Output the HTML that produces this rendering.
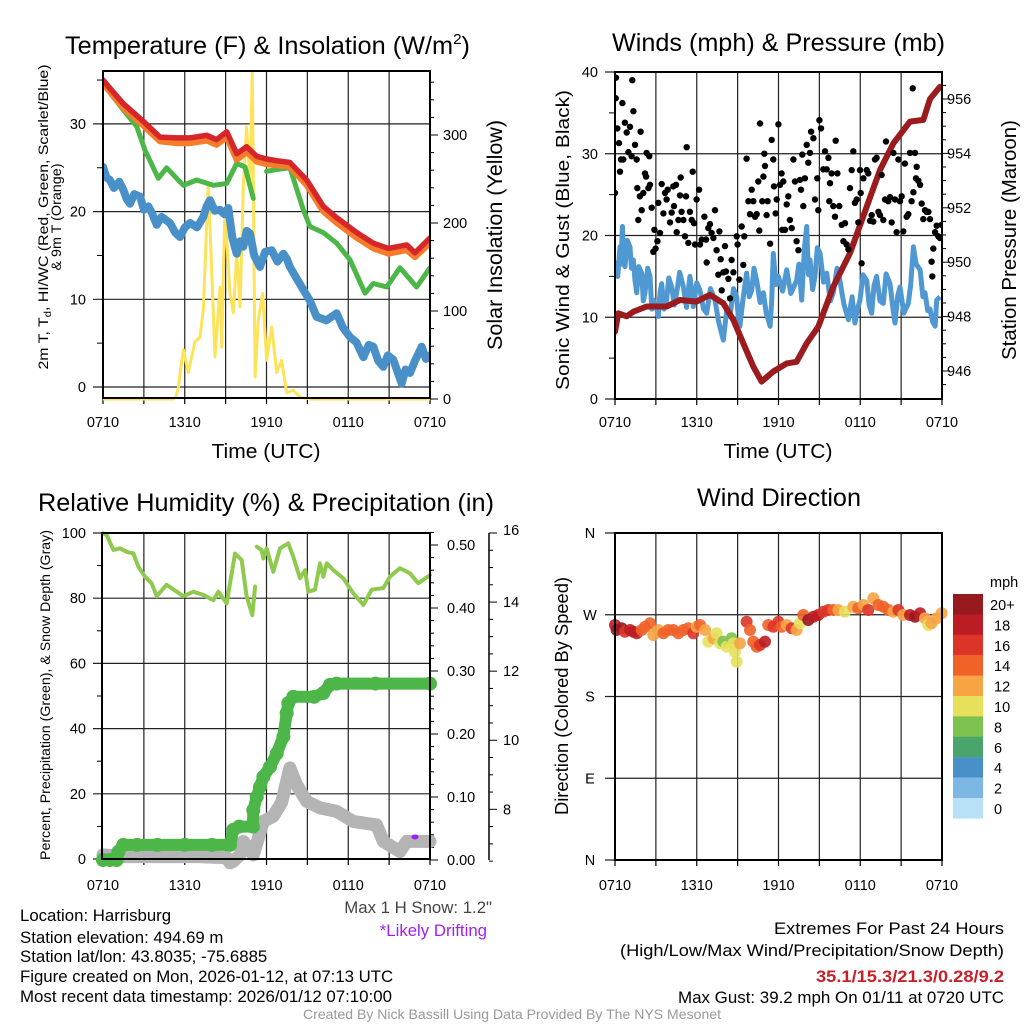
<!DOCTYPE html>
<html><head><meta charset="utf-8"><style>
html,body{margin:0;padding:0;background:#fff;}
svg{display:block;font-family:"Liberation Sans",Arial,sans-serif;}
</style></head><body>
<svg id="fig" width="1024" height="1024" viewBox="0 0 1024 1024" xmlns="http://www.w3.org/2000/svg">
<rect width="1024" height="1024" fill="#fff"/>
<defs>
<clipPath id="cT"><rect x="103" y="71" width="327" height="331"/></clipPath>
<clipPath id="cW"><rect x="615" y="72" width="327" height="327"/></clipPath>
</defs>
<g id="gT"></g>
<g id="gW"></g>
<g id="gR"></g>
<g id="gD"></g>

<text x="65" y="54" font-size="25" textLength="405" lengthAdjust="spacingAndGlyphs">Temperature (F) &amp; Insolation (W/m<tspan font-size="15" dy="-10">2</tspan><tspan dy="10">)</tspan></text>
<text x="612" y="51" font-size="25" textLength="333" lengthAdjust="spacingAndGlyphs">Winds (mph) &amp; Pressure (mb)</text>
<text x="38" y="511" font-size="25" textLength="456" lengthAdjust="spacingAndGlyphs">Relative Humidity (%) &amp; Precipitation (in)</text>
<text x="697" y="506" font-size="25" textLength="164" lengthAdjust="spacingAndGlyphs">Wind Direction</text>

<g transform="translate(48,217) rotate(-90)" font-size="14" text-anchor="middle">
<text x="0" y="0" textLength="305" lengthAdjust="spacingAndGlyphs">2m T, T<tspan font-size="10" dy="3">d</tspan><tspan dy="-3">, HI/WC (Red, Green, Scarlet/Blue)</tspan></text>
<text x="0" y="13" textLength="107" lengthAdjust="spacingAndGlyphs">&amp; 9m T (Orange)</text></g>
<text transform="translate(502,235) rotate(-90)" font-size="21" text-anchor="middle" textLength="230" lengthAdjust="spacingAndGlyphs">Solar Insolation (Yellow)</text>
<text x="266" y="458" font-size="20.5" text-anchor="middle" textLength="109" lengthAdjust="spacingAndGlyphs">Time (UTC)</text>
<text x="778" y="458" font-size="20.5" text-anchor="middle" textLength="109" lengthAdjust="spacingAndGlyphs">Time (UTC)</text>
<text transform="translate(569,240) rotate(-90)" font-size="18.5" text-anchor="middle" textLength="300" lengthAdjust="spacingAndGlyphs">Sonic Wind &amp; Gust (Blue, Black)</text>
<text transform="translate(1016,240) rotate(-90)" font-size="20.5" text-anchor="middle" textLength="240" lengthAdjust="spacingAndGlyphs">Station Pressure (Maroon)</text>
<text transform="translate(50,695) rotate(-90)" font-size="13.5" text-anchor="middle" textLength="330" lengthAdjust="spacingAndGlyphs">Percent, Precipitation (Green), &amp; Snow Depth (Gray)</text>
<text transform="translate(568,696) rotate(-90)" font-size="18.5" text-anchor="middle" textLength="238" lengthAdjust="spacingAndGlyphs">Direction (Colored By Speed)</text>

<text x="492" y="913" font-size="16.8" fill="#444" text-anchor="end">Max 1 H Snow: 1.2"</text>
<text x="487" y="936" font-size="16.8" fill="#a020f0" text-anchor="end">*Likely Drifting</text>

<g font-size="16.8">
<text x="20" y="921">Location: Harrisburg</text>
<text x="20" y="943">Station elevation: 494.69 m</text>
<text x="20" y="962">Station lat/lon: 43.8035; -75.6885</text>
<text x="20" y="982">Figure created on Mon, 2026-01-12, at 07:13 UTC</text>
<text x="20" y="1002" textLength="372" lengthAdjust="spacingAndGlyphs">Most recent data timestamp: 2026/01/12 07:10:00</text>
</g>
<g font-size="17">
<text x="774" y="934" textLength="230" lengthAdjust="spacingAndGlyphs">Extremes For Past 24 Hours</text>
<text x="620" y="956" textLength="384" lengthAdjust="spacingAndGlyphs">(High/Low/Max Wind/Precipitation/Snow Depth)</text>
<text x="816" y="982" font-weight="bold" fill="#c8202a" textLength="188" lengthAdjust="spacingAndGlyphs">35.1/15.3/21.3/0.28/9.2</text>
<text x="678" y="1003" textLength="326" lengthAdjust="spacingAndGlyphs">Max Gust: 39.2 mph On 01/11 at 0720 UTC</text>
</g>
<text x="303" y="1019" font-size="14" fill="#999" textLength="418" lengthAdjust="spacingAndGlyphs">Created By Nick Bassill Using Data Provided By The NYS Mesonet</text>
</svg>
<script>
// ---------- data ----------
const xTickLabels = ["0710","1310","1910","0110","0710"];
const xTickHours = [0,6,12,18,24];
const tempHours = [0,1.49,2.96,4.18,5.41,6.39,7.61,8.34,9.08,9.81,10.54,11.28,12.01,12.75,13.72,14.95,16.17,17.15,18.62,19.84,20.94,22.29,22.9,24];
const tempRed = [35.0,32.3,30.3,28.5,28.4,28.4,28.7,28.2,29.1,26.6,27.4,26.3,26.0,25.8,25.6,23.6,20.6,19.3,17.6,16.4,15.8,16.2,15.3,17.0];
const tempOrange = [34.6,31.8,29.8,28.0,27.8,27.8,28.1,27.6,28.5,25.9,26.8,25.7,25.4,25.3,25.1,23.0,20.0,18.7,17.0,15.8,15.2,15.6,14.8,16.4];
const wcHours = [0,1.49,2.47,3.08,4.06,4.67,5.9,6.87,8.1,9.08,9.81,10.42,11.03,11.28,12.01,12.75,13.72,14.7,15.19,16.17,17.15,18.13,19.23,19.84,20.82,21.8,23.02,24];
const wcGreen = [34.6,31.6,29.7,27.0,23.8,25.0,23.0,23.6,23.0,23.2,25.5,25.1,21.5,null,24.6,24.8,25.0,20.2,18.3,17.6,16.4,14.5,10.7,11.8,11.4,13.6,11.4,13.6];
const dewHours = [0,0.25,0.51,0.8,1.2,1.49,1.75,1.98,2.3,2.72,3.0,3.33,3.6,3.94,4.3,4.92,5.3,5.65,6.0,6.39,6.9,7.36,7.6,7.85,8.2,8.59,8.9,9.2,9.5,9.81,10.05,10.3,10.55,10.79,11.1,11.52,11.9,12.38,12.8,13.24,13.5,13.72,14.2,14.7,15.2,15.68,16.4,17.15,17.6,18.13,18.6,19.11,19.5,19.84,20.2,20.57,20.9,21.31,21.6,21.92,22.2,22.53,22.9,23.39,23.7,24];
const dewBlue = [25.1,23.9,23.6,22.7,23.4,22.5,21.4,20.9,22.0,21.7,20.2,20.6,19.8,18.5,19.4,18.7,17.6,17.1,18.2,18.7,18.2,19.4,20.6,21.3,20.1,20.2,19.7,20.4,17.0,15.2,16.6,16.0,17.8,17.5,15.0,13.7,15.4,15.6,14.3,15.2,14.6,13.7,12.4,11.1,9.8,8.0,7.6,8.4,6.8,5.7,5.1,3.4,4.8,4.6,3.0,2.3,3.6,3.1,1.8,0.4,2.0,1.6,3.0,4.6,3.2,3.6];
const solarHours = [0,5.16,5.35,5.53,5.7,5.9,6.26,6.75,7.12,7.36,7.73,8.22,8.59,8.71,8.95,9.32,9.57,9.81,10.06,10.3,10.54,10.79,10.96,11.16,11.4,11.72,12.01,12.38,12.75,13.11,13.48,13.97,14.46,15.19,24];
const solarVals = [0,0,3,12,35,56,30,65,70,101,245,48,127,59,215,120,98,166,105,241,309,249,375,25,90,120,44,82,30,44,7,10,2,0,0];

const windHours = [0,0.2,0.37,0.45,0.54,0.63,0.73,0.9,1.1,1.2,1.35,1.47,1.59,1.75,1.96,2.08,2.2,2.4,2.57,2.7,2.81,3.0,3.18,3.3,3.43,3.6,3.79,3.95,4.16,4.35,4.53,4.75,5.02,5.25,5.5,5.6,5.75,6.0,6.24,6.5,6.73,7.0,7.34,7.6,7.95,8.2,8.44,8.7,8.93,9.05,9.17,9.4,9.66,9.85,10.03,10.2,10.4,10.65,10.89,11.1,11.38,11.5,11.62,11.8,11.99,12.3,12.6,12.9,13.33,13.5,13.7,13.9,14.07,14.2,14.31,14.5,14.68,14.85,15.05,15.3,15.54,15.8,16.02,16.3,16.51,16.8,17.13,17.4,17.61,17.8,17.98,18.2,18.47,18.65,18.84,19.0,19.2,19.45,19.69,19.9,20.18,20.4,20.55,20.75,20.92,21.2,21.53,21.7,21.9,22.1,22.39,22.6,22.75,22.95,23.12,23.3,23.49,23.61,23.85];
const windBlue = [16.9,15.0,18.6,16.5,21.1,18.0,16.2,19.4,18.6,16.0,17.0,14.5,13.0,16.2,15.4,12.0,13.0,16.0,15.0,11.0,12.1,11.5,10.1,13.0,14.1,11.0,12.1,14.8,13.7,11.5,13.0,15.5,13.7,11.2,15.0,13.6,11.3,14.2,13.3,11.0,10.5,13.5,12.1,9.5,7.2,10.8,10.1,13.5,12.5,10.0,8.9,12.3,15.4,12.5,13.3,16.0,14.5,11.8,13.0,10.5,8.9,12.0,17.8,14.0,15.0,13.2,15.8,12.9,14.5,16.5,12.1,18.4,21.1,15.2,17.0,13.4,15.0,18.5,17.8,14.3,15.4,12.0,13.0,16.0,14.5,11.6,9.7,12.5,9.3,11.0,12.1,15.2,14.5,11.5,10.5,13.8,15.0,12.0,11.7,15.3,14.1,11.0,9.3,12.6,13.7,10.5,11.7,14.0,18.6,16.5,15.8,12.5,13.0,10.8,11.0,9.5,8.9,12.1,12.5];
const presHours = [0,0.24,0.86,1.35,2.32,3.79,4.77,5.99,6.97,7.95,8.69,9.42,10.15,10.76,11.62,12.6,13.33,14.07,14.92,16.02,17.25,18.47,19.45,20.43,21.65,22.63,23.12,23.85];
const presVals = [947.45,948.12,948.01,948.18,948.37,948.37,948.61,948.55,948.8,948.49,947.88,947.02,946.16,945.61,945.98,946.28,946.34,947.02,947.63,949.1,950.33,952.04,953.39,954.37,955.17,955.23,956.0,956.45];
const gustHours = [0,0.05,0.07,0.17,0.29,0.37,0.44,0.61,0.54,0.73,0.86,0.98,1.1,1.22,1.27,1.35,1.47,1.59,1.64,1.71,1.83,1.88,1.96,2.08,2.2,2.28,2.32,2.45,2.52,2.57,2.69,2.81,2.89,2.98,3.11,3.18,3.3,3.43,3.55,3.67,3.79,3.87,4.04,4.16,4.28,4.33,4.48,4.53,4.65,4.77,4.82,4.89,5.02,5.14,5.21,5.26,5.38,5.5,5.63,5.7,5.8,5.87,5.99,6.17,6.24,6.36,6.56,6.68,6.73,6.85,6.97,7.09,7.22,7.34,7.46,7.58,7.66,7.76,7.83,7.95,8.07,8.15,8.32,8.44,8.56,8.69,8.93,9.0,9.13,9.3,9.42,9.49,9.66,9.79,9.91,10.03,10.15,10.28,10.4,10.52,10.59,10.64,10.81,10.89,10.96,11.01,11.13,11.2,11.38,11.5,11.62,11.67,11.79,11.87,11.99,12.11,12.23,12.28,12.35,12.48,12.6,12.72,12.84,12.97,13.09,13.21,13.33,13.46,13.58,13.65,13.75,13.82,13.94,14.07,14.19,14.31,14.39,14.56,14.68,14.85,14.92,15.0,15.12,15.29,15.41,15.54,15.66,15.73,15.78,15.9,16.02,16.15,16.2,16.32,16.46,16.64,16.76,16.88,17.0,17.13,17.25,17.37,17.49,17.61,17.74,17.86,17.98,18.03,18.1,18.23,18.47,18.59,18.72,18.84,18.96,19.08,19.2,19.33,19.45,19.57,19.69,19.82,19.89,20.06,20.18,20.31,20.43,20.55,20.67,20.8,20.92,21.04,21.16,21.28,21.41,21.53,21.65,21.77,21.85,21.9,22.02,22.09,22.14,22.26,22.39,22.51,22.63,22.75,22.87,23.0,23.12,23.24,23.29,23.36,23.49,23.61,23.73,23.85,23.98];
const gustMph = [25.2,36.8,39.3,33.1,31.3,27.8,29.3,29.3,36.2,33.8,32.6,30.2,33.3,29.7,39.0,35.2,31.1,29.3,25.8,21.9,24.8,32.7,23.1,25.2,27.6,27.2,30.1,25.8,29.7,26.2,23.4,18.0,20.7,18.4,19.3,24.0,20.3,26.3,22.7,25.2,24.4,25.6,21.6,22.8,26.0,23.6,26.2,20.4,21.9,24.9,27.1,22.9,21.9,19.9,24.8,30.8,19.1,22.9,21.9,27.8,21.5,18.9,24.4,25.6,18.9,19.5,22.3,19.5,16.7,20.9,21.4,20.3,19.7,23.1,18.2,15.2,20.5,17.1,13.3,15.5,18.7,15.6,14.7,12.3,17.0,15.5,19.9,18.9,14.6,21.1,16.4,19.9,29.4,24.2,22.6,25.6,24.2,22.3,22.6,26.6,20.6,33.7,24.2,27.2,30.0,28.5,22.5,24.2,19.0,31.7,29.3,26.0,22.7,24.4,33.6,26.2,27.6,20.7,26.6,20.7,23.8,24.8,21.9,20.9,29.3,26.6,19.3,18.2,26.8,25.6,29.9,23.6,27.0,31.1,28.9,30.1,32.7,31.9,24.4,27.0,23.1,34.1,33.1,28.1,30.3,28.1,29.5,24.2,26.4,27.6,23.6,22.3,31.6,27.6,23.6,21.3,19.3,21.5,18.9,18.3,25.8,28.0,30.3,24.0,24.4,21.6,28.0,25.2,16.6,27.0,28.0,27.6,21.8,22.5,21.7,29.3,29.5,22.9,22.5,27.4,21.9,24.4,31.5,24.2,24.7,21.6,30.1,24.4,20.4,29.3,24.2,24.8,20.5,28.8,22.3,22.6,30.1,24.2,38.0,25.3,30.1,27.0,28.4,26.7,26.2,23.9,22.0,23.1,22.9,22.9,22.0,16.8,15.0,18.4,20.4,21.2,19.9,19.7,21.3];

const rhHours = [0,0.27,0.76,1.25,1.74,2.23,2.59,3.08,3.57,3.94,4.67,5.41,5.9,6.63,7.36,8.1,8.46,9.08,9.69,10.18,10.54,10.96,11.16,11.23,11.28,11.64,11.77,12.01,12.5,12.99,13.6,13.97,14.46,14.83,15.07,15.56,15.93,16.17,16.42,16.91,17.64,18.37,19.11,19.72,20.57,21.06,21.8,22.53,23.14,24];
const rhVals = [99.9,99.4,94.8,95.3,94.2,93.7,89.7,86.6,84.6,80.6,84.1,82.0,80.6,82.0,81.0,79.4,82.0,78.4,93.7,91.7,80.6,74.8,83.6,null,95.8,94.8,92.2,95.3,88.1,95.3,96.8,92.7,86.1,88.6,82.0,82.6,90.7,86.6,90.7,88.6,86.1,81.5,77.9,82.6,83.1,86.6,89.2,87.6,84.6,87.1];
const precipHours = [0,0.5,1.0,1.13,1.49,2.5,4,6,8,9.32,9.57,10.0,11.0,11.03,11.28,11.52,11.77,12.26,12.75,13.24,13.48,13.6,13.97,15.5,16.17,16.66,17.15,20,24];
const precipVals = [0,0,0,0.013,0.024,0.024,0.024,0.024,0.024,0.024,0.048,0.053,0.053,0.079,0.1,0.116,0.132,0.148,0.169,0.196,0.233,0.249,0.259,0.259,0.265,0.278,0.28,0.28,0.28];
const snowHours = [0,1.49,4,7,9.08,9.32,9.57,10.06,10.3,11.03,11.77,12.5,13.11,13.72,14.2,14.95,15.93,17.15,18.37,20.08,20.57,21.8,22.29,24];
const snowVals = [6.68,6.63,6.63,6.63,6.6,6.45,6.5,6.68,7.07,6.68,7.65,7.8,8.2,9.2,8.72,8.23,8.04,7.94,7.65,7.55,7.07,6.78,7.07,7.07];
const driftHours = [22.9];
const driftVals = [7.2];

const dirHours = [0,0.12,0.49,0.73,1.1,1.35,1.59,1.96,2.2,2.57,2.81,3.18,3.55,3.91,4.28,4.65,5.02,5.38,5.75,5.99,6.24,6.61,6.85,7.22,7.46,7.71,7.95,8.2,8.56,8.69,8.81,8.93,9.17,9.66,9.91,10.15,10.4,10.64,11.01,11.25,11.62,11.99,12.23,12.6,12.97,13.33,13.58,13.82,14.19,14.56,14.92,15.29,15.66,16.02,16.39,16.88,17.49,17.86,18.23,18.59,18.96,19.33,19.69,20.06,20.43,20.8,21.16,21.65,22.02,22.39,22.75,23.0,23.24,23.61,23.98];
const dirDeg = [258.7,253.2,255.1,251.4,253.2,251.4,249.6,253.2,256.9,260.6,247.7,253.2,249.6,253.2,253.2,249.6,253.2,255.1,249.6,256.9,258.7,253.2,240.4,244.1,249.6,238.5,240.4,234.8,244.1,238.5,229.3,218.3,238.5,262.4,253.2,240.4,234.8,236.7,240.4,258.7,256.9,262.4,256.9,258.7,255.1,253.2,260.6,269.7,264.2,267.9,269.7,273.4,275.2,275.2,275.2,273.4,278.9,277.1,280.7,275.2,288.1,280.7,278.9,275.2,273.4,275.2,269.7,269.7,267.9,271.6,266.1,258.7,260.6,266.1,271.6];
const dirSpeed = [18,20,20,16,18,18,18,14,14,14,12,12,14,14,14,14,14,14,16,12,14,12,10,12,10,10,8,10,8,10,10,10,12,16,14,14,14,16,18,14,16,16,14,12,16,12,10,14,20,18,18,16,16,14,12,10,12,14,12,16,12,14,14,14,12,16,12,18,20,18,12,10,12,12,12];
const cbLabels = ["20+","18","16","14","12","10","8","6","4","2","0"];
const cbColors = ["#961a1e","#bc1d24","#dc3528","#ef6228","#f6a444","#e6e05a","#7dc24f","#4aa46c","#4a90c8","#7db8e5","#b8e1f7"];

// ---------- helpers ----------
const NS = "http://www.w3.org/2000/svg";
function mk(parent, tag, attrs){
  const e = document.createElementNS(NS, tag);
  for (const k in attrs) e.setAttribute(k, attrs[k]);
  parent.appendChild(e); return e;
}
function pathD(xs, ys, fx, fy){
  let d = "", pen = false;
  for (let i=0;i<xs.length;i++){
    if (ys[i]===null){ pen=false; continue; }
    d += (pen?"L":"M") + fx(xs[i]).toFixed(1) + "," + fy(ys[i]).toFixed(1);
    pen = true;
  }
  return d;
}
function txt(parent, x, y, s, anchor, size){
  const t = mk(parent, "text", {x:x, y:y, "font-size":size||14.5, "text-anchor":anchor||"middle"});
  t.textContent = s; return t;
}
function line(parent, x1,y1,x2,y2,w,c){
  return mk(parent,"line",{x1:x1,y1:y1,x2:x2,y2:y2,stroke:c||"#000","stroke-width":w||1.2});
}
function frame(g, L, T, R, B, fx, xlabY){
  for (let h=3; h<24; h+=3){
    const gl = line(g, fx(h), T, fx(h), B, 1.2, "#222");
    
    
  }
  for (let h=0; h<=24; h+=3){ line(g, fx(h), B, fx(h), B+6, 1.2); }
  xTickHours.forEach((h,i)=>{
    const t = txt(g, fx(h), xlabY, xTickLabels[i], "middle", 14.5);
    
    
  });
}

// ---------- Temperature panel ----------
(function(){
  const g = document.getElementById("gT");
  const L=103,R=430,T=71,B=398;
  const fx = h => L + h*13.625;
  const fy = v => 387 - v*8.77;
  const fs = v => 399 - v*0.88;
  for (let v=0; v<=30; v+=10){
    line(g, 93, fy(v), R, fy(v), 1.2, "#222");
    const t = txt(g, 86, fy(v)+5, String(v), "end");
    
    
  }
  for (let v=5; v<=35; v+=10) line(g, 97, fy(v), L, fy(v), 1);
  for (let v=0; v<=360; v+=20) line(g, R, fs(v), R+(v%100===0?8:4), fs(v), 1);
  for (let v=0; v<=300; v+=100){
    const t = txt(g, 443, fs(v)+5, String(v), "start");
    
    
  }
  frame(g, L, T, R, B, fx, 427);
  const data = mk(g, "g", {"clip-path":"url(#cT)"});
  const s1 = mk(data,"path",{d:pathD(solarHours,solarVals,fx,fs),fill:"none",stroke:"#fde35a","stroke-width":3,"stroke-linejoin":"round"});
  
  
  const s2 = mk(data,"path",{d:pathD(dewHours,dewBlue,fx,fy),fill:"none",stroke:"#4a90c8","stroke-width":8,"stroke-linejoin":"round","stroke-linecap":"round"});
  
  
  const s3 = mk(data,"path",{d:pathD(wcHours,wcGreen,fx,fy),fill:"none",stroke:"#4cb648","stroke-width":5,"stroke-linejoin":"round","stroke-linecap":"round"});
  
  
  const s4 = mk(data,"path",{d:pathD(tempHours,tempOrange,fx,fy),fill:"none",stroke:"#f47c2a","stroke-width":6,"stroke-linejoin":"round","stroke-linecap":"round"});
  
  
  const s5 = mk(data,"path",{d:pathD(tempHours,tempRed,fx,fy),fill:"none",stroke:"#d7262a","stroke-width":5.5,"stroke-linejoin":"round","stroke-linecap":"round"});
  
  
  mk(g,"rect",{x:L,y:T,width:R-L,height:B-T,fill:"none",stroke:"#000","stroke-width":2});
})();

// ---------- Winds panel ----------
(function(){
  const g = document.getElementById("gW");
  const L=615,R=942,T=72,B=399;
  const fx = h => L + h*13.625;
  const fy = v => 399 - v*8.175;
  const fp = p => 99 + (956-p)*27.2;
  for (let v=0; v<=40; v+=10){
    line(g, 605, fy(v), R, fy(v), 1.2, "#222");
    const t = txt(g, 598, fy(v)+5, String(v), "end");
    
    
  }
  for (let v=5; v<=35; v+=10) line(g, 609, fy(v), L, fy(v), 1);
  for (let p=945.5; p<=956.5; p+=0.5) line(g, R, fp(p), R+(p%2===0?8:4), fp(p), 1);
  for (let p=946; p<=956; p+=2){
    const t = txt(g, 947, fp(p)+5, String(p), "start");
    
    
  }
  frame(g, L, T, R, B, fx, 427);
  const data = mk(g, "g", {"clip-path":"url(#cW)"});
  const w = mk(data,"path",{d:pathD(windHours,windBlue,fx,fy),fill:"none",stroke:"#4f98d2","stroke-width":5,"stroke-linejoin":"round"});
  
  
  const p = mk(data,"path",{d:pathD(presHours,presVals,fx,fp),fill:"none",stroke:"#9b1b1e","stroke-width":6,"stroke-linejoin":"round","stroke-linecap":"round"});
  
  
  const gg = mk(data,"g",{});
  
  
  gustHours.forEach((h,i)=>{
    const c = mk(gg,"circle",{cx:fx(h).toFixed(1),cy:fy(gustMph[i]).toFixed(1),r:3.2,fill:"#000"});
    
    
  });
  mk(g,"rect",{x:L,y:T,width:R-L,height:B-T,fill:"none",stroke:"#000","stroke-width":2});
})();

// ---------- RH panel ----------
(function(){
  const g = document.getElementById("gR");
  const L=102,R=430,T=533,B=859;
  const fx = h => 103 + h*13.625;
  const fy = v => 859 - v*3.26;
  const fpr = v => 860 - v*630;
  const fsn = v => 533 + (16-v)*34.54;
  for (let v=0; v<=100; v+=20){
    line(g, 93, fy(v), R, fy(v), 1.2, "#222");
    const t = txt(g, 86, fy(v)+5, String(v), "end");
    
    
  }
  for (let v=10; v<=90; v+=20) line(g, 97, fy(v), L, fy(v), 1);
  for (let i=0;i<=26;i++){ const v=i*0.02; line(g, R, fpr(v), R+(i%5===0?8:4), fpr(v), 1); }
  for (let i=0;i<=5;i++){
    const t = txt(g, 447, fpr(i*0.1)+5, (i*0.1).toFixed(2), "start");
    
    
  }
  line(g, 489, 533, 489, 860, 1.5);
  for (let v=6.5; v<=16; v+=0.5) line(g, 489, fsn(v), 489+(v%2===0?8:4), fsn(v), 1);
  for (let v=8; v<=16; v+=2){
    const t = txt(g, 503, fsn(v)+(v===16?2:5), String(v), "start");
    
    
  }
  frame(g, L, T, R, B, fx, 890);
  const sn = mk(g,"path",{d:pathD(snowHours,snowVals,fx,fsn),fill:"none",stroke:"#b4b4b4","stroke-width":13,"stroke-linejoin":"round","stroke-linecap":"round"});
  
  
  const pg = mk(g,"g",{});
  
  
  for (let i=0;i<precipHours.length-1;i++){
    const seg = mk(pg,"path",{d:pathD([precipHours[i],precipHours[i+1]],[precipVals[i],precipVals[i+1]],fx,fpr),stroke:"#4cb648","stroke-width":12,"stroke-linecap":"round",fill:"none"});
    
    
  }
  precipHours.forEach((h,i)=>{
    const c = mk(pg,"circle",{cx:fx(h),cy:fpr(precipVals[i]),r:7,fill:"#4cb648"});
    
    
  });
  const rh = mk(g,"path",{d:pathD(rhHours,rhVals,fx,fy),fill:"none",stroke:"#8fca4f","stroke-width":4,"stroke-linejoin":"round","stroke-linecap":"round"});
  
  
  driftHours.forEach((h,i)=>{
    const c = mk(g,"ellipse",{cx:fx(h),cy:fsn(driftVals[i]),rx:3.5,ry:2.5,fill:"#a020f0"});
    
    
  });
  mk(g,"rect",{x:L,y:T,width:R-L,height:B-T,fill:"none",stroke:"#000","stroke-width":2});
})();

// ---------- Wind direction panel ----------
(function(){
  const g = document.getElementById("gD");
  const L=615,R=942,T=533,B=860;
  const fx = h => L + h*13.625;
  const fy = d => 860 - d*0.9083;
  const dl = ["N","E","S","W","N"];
  for (let i=0;i<=4;i++){
    line(g, 605, fy(i*90), R, fy(i*90), 1.2, "#222");
    const t = txt(g, 590, fy(i*90)+5, dl[i], "middle");
    
    
  }
  frame(g, L, T, R, B, fx, 890);
  const colorFor = s => cbColors[Math.max(0, 10 - Math.floor(Math.min(s,20)/2))];
  dirHours.forEach((h,i)=>{
    const c = mk(g,"circle",{cx:fx(h).toFixed(1),cy:fy(dirDeg[i]).toFixed(1),r:6,fill:colorFor(dirSpeed[i]),"fill-opacity":0.9});
    
    
  });
  mk(g,"rect",{x:L,y:T,width:R-L,height:B-T,fill:"none",stroke:"#000","stroke-width":2});
  const cb = mk(g,"g",{});
  
  
  const u = txt(cb, 990, 587, "mph", "start", 14.5);
  
  
  cbColors.forEach((c,i)=>{
    const r = mk(cb,"rect",{x:953,y:594+i*20.4,width:30,height:20.6,fill:c});
    
    
    const t = txt(cb, cbLabels[i]==="20+"?990:994, 594+i*20.4+16, cbLabels[i], "start", 14.5);
    
    
  });
})();
</script>
</body></html>
